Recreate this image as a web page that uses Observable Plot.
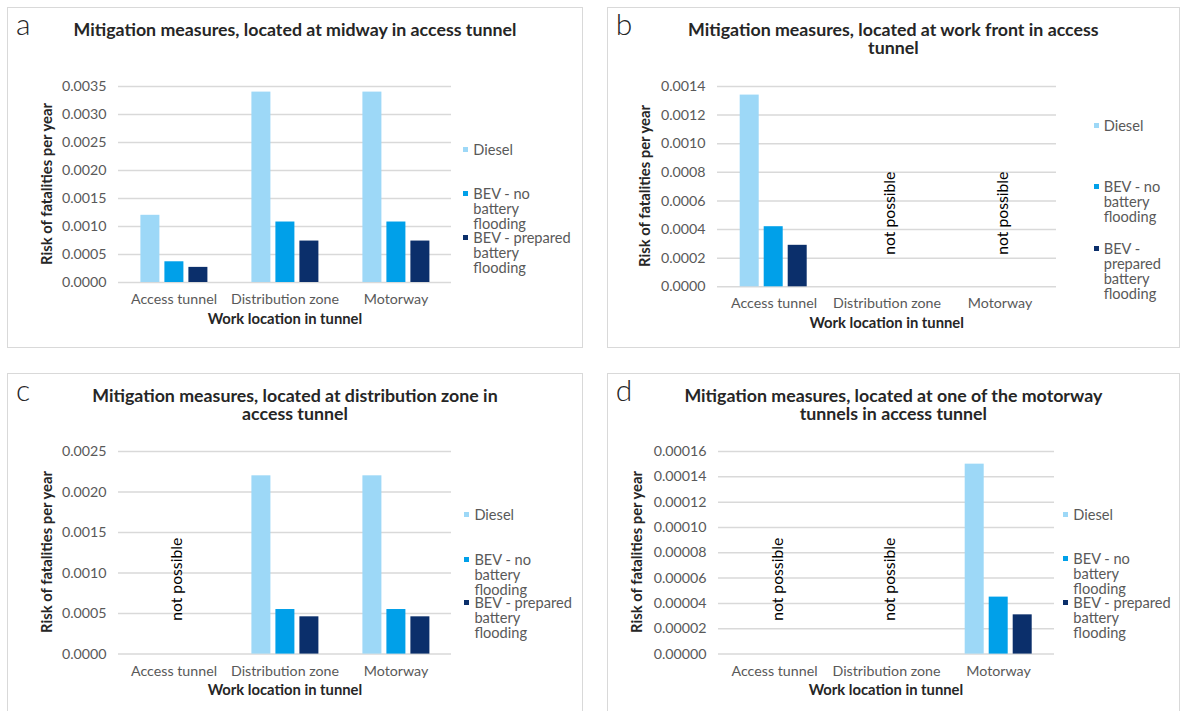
<!DOCTYPE html>
<html><head><meta charset="utf-8">
<script src="https://cdn.jsdelivr.net/npm/d3@7"></script>
<script src="https://cdn.jsdelivr.net/npm/@observablehq/plot@0.6"></script>
<style>
html,body{margin:0;padding:0;background:#fff;}
#fig{position:relative;width:1182px;height:711px;overflow:hidden;font-family:Lato,"Open Sans",sans-serif;}
.panel{position:absolute;border:1px solid #d9d9d9;box-sizing:border-box;}
.abs{position:absolute;white-space:nowrap;}
svg{overflow:visible;}
</style></head><body><div id="fig"></div>
<script>
// ---------- data ----------
const categories = ["Access tunnel", "Distribution zone", "Motorway"];
const series = ["Diesel", "BEV - no battery flooding", "BEV - prepared battery flooding"];
const seriesColors = ["#9dd8f7", "#00a0e9", "#0b2f6b"];
const panelLetters = ["a", "b", "c", "d"];
const panelTitles = [
  "Mitigation measures, located at midway in access tunnel",
  "Mitigation measures, located at work front in access tunnel",
  "Mitigation measures, located at distribution zone in access tunnel",
  "Mitigation measures, located at one of the motorway tunnels in access tunnel"
];
const xAxisTitle = "Work location in tunnel";
const yAxisTitle = "Risk of fatalities per year";
const notPossibleLabel = "not possible";

// panel a: midway
const dieselA  = [0.0012, 0.0034, 0.0034];
const bevNoA   = [0.00037, 0.00108, 0.00108];
const bevPrepA = [0.00027, 0.00074, 0.00074];
const ticksA   = [0, 0.0005, 0.0010, 0.0015, 0.0020, 0.0025, 0.0030, 0.0035];
const notPossibleA = [];
// panel b: work front
const dieselB  = [0.00134, null, null];
const bevNoB   = [0.00042, null, null];
const bevPrepB = [0.00029, null, null];
const ticksB   = [0, 0.0002, 0.0004, 0.0006, 0.0008, 0.0010, 0.0012, 0.0014];
const notPossibleB = ["Distribution zone", "Motorway"];
// panel c: distribution zone
const dieselC  = [null, 0.0022, 0.0022];
const bevNoC   = [null, 0.00055, 0.00055];
const bevPrepC = [null, 0.00046, 0.00046];
const ticksC   = [0, 0.0005, 0.0010, 0.0015, 0.0020, 0.0025];
const notPossibleC = ["Access tunnel"];
// panel d: one of the motorway tunnels
const dieselD  = [null, null, 0.00015];
const bevNoD   = [null, null, 0.000045];
const bevPrepD = [null, null, 0.000031];
const ticksD   = [0, 0.00002, 0.00004, 0.00006, 0.00008, 0.00010, 0.00012, 0.00014, 0.00016];
const notPossibleD = ["Access tunnel", "Distribution zone"];

const panelValues = [[dieselA, bevNoA, bevPrepA], [dieselB, bevNoB, bevPrepB], [dieselC, bevNoC, bevPrepC], [dieselD, bevNoD, bevPrepD]];
const panelTicks = [ticksA, ticksB, ticksC, ticksD];
const panelFormats = [".4f", ".4f", ".4f", ".5f"];
const panelNotPossible = [notPossibleA, notPossibleB, notPossibleC, notPossibleD];

// ---------- layout ----------
const layout = [
  {box: [7, 7, 583, 348],        plot: [117.6, 85.7, 452.3, 281.7],  yTitleX: 46,    legendX: 473.3,  legendRows: [63.3, 107.6, 151.3], legendWidth: 100, titleWidth: 480},
  {box: [606.7, 7, 1180, 348],   plot: [717, 85.7, 1056.3, 286],     yTitleX: 644.4, legendX: 1103.7, legendRows: [39.3, 100.3, 162.3], legendWidth: 72,  titleWidth: 430},
  {box: [7, 373, 583, 712],      plot: [117.6, 450.7, 452.3, 653.3], yTitleX: 45.8,  legendX: 474.4,  legendRows: [63.6, 108.3, 151.6], legendWidth: 100, titleWidth: 420},
  {box: [606.7, 373, 1180, 712], plot: [717, 450.7, 1054.8, 653.3],  yTitleX: 636,   legendX: 1073.3, legendRows: [63.6, 108, 151.3],   legendWidth: 100, titleWidth: 430}
];

const FONT = "Lato";
const ctx = document.createElement("canvas").getContext("2d");
function fit(text, weight, target) {
  ctx.font = `${weight} 100px ${FONT}`;
  return 100 * target / ctx.measureText(text).width;
}
const titleFs  = fit(panelTitles[0], 700, 443.5);
const tickFs   = fit("Access tunnel", 400, 86);
const legendFs = fit("BEV - prepared", 400, 98);
const axisFs   = fit(xAxisTitle, 700, 154.6);
const npFs     = fit(notPossibleLabel, 400, 83);

const fig = document.getElementById("fig");
function addDiv(cls, css, text) {
  const d = document.createElement("div");
  d.className = cls;
  Object.assign(d.style, css);
  if (text != null) d.textContent = text;
  fig.appendChild(d);
  return d;
}

layout.forEach((L, i) => {
  const [bx0, by0, bx1, by1] = L.box;
  const [px0, py0, px1, py1] = L.plot;
  addDiv("panel", {left: bx0 + "px", top: by0 + "px", width: (bx1 - bx0) + "px", height: (by1 - by0) + "px"});

  const rows = [];
  panelValues[i].forEach((vals, s) => vals.forEach((v, c) => {
    if (v != null) rows.push({category: categories[c], series: series[s], value: v});
  }));

  const svgTop = py0 - 20, svgBottom = py1 + 30;
  const chart = Plot.plot({
    width: bx1 - bx0,
    height: svgBottom - svgTop,
    marginLeft: px0 - bx0,
    marginRight: bx1 - px1,
    marginTop: py0 - svgTop,
    marginBottom: svgBottom - py1,
    style: {fontFamily: FONT, fontSize: tickFs + "px", color: "#595959", background: "transparent", overflow: "visible"},
    fx: {domain: categories, padding: 0, label: null},
    x: {domain: series, paddingInner: 0.2, paddingOuter: 0.87, axis: null},
    y: {domain: [0, d3.max(panelTicks[i])], label: null},
    color: {domain: series, range: seriesColors},
    marks: [
      Plot.gridY({ticks: panelTicks[i], stroke: "#d9d9d9", strokeOpacity: 1, strokeWidth: 1.5}),
      Plot.axisY({ticks: panelTicks[i], tickFormat: d3.format(panelFormats[i]), tickSize: 0, tickPadding: 12, label: null, fill: "#595959", fontSize: tickFs}),
      Plot.axisFx({anchor: "bottom", tickSize: 0, tickPadding: 11.5, label: null, fill: "#595959", fontSize: tickFs}),
      Plot.barY(rows, {fx: "category", x: "series", y: "value", fill: "series"}),
      Plot.text(panelNotPossible[i], {fx: d => d, text: () => notPossibleLabel, frameAnchor: "middle", rotate: -90, dx: 3, dy: 26.5, fontSize: npFs, fill: "#000"})
    ]
  });
  chart.style.position = "absolute";
  chart.style.left = bx0 + "px";
  chart.style.top = svgTop + "px";
  fig.appendChild(chart);

  // panel letter
  addDiv("abs", {left: (bx0 + 9) + "px", top: (by0 + 1) + "px", fontSize: "30px", lineHeight: "30px", fontWeight: 300, color: "#262626"}, panelLetters[i]);
  // title
  const cx = (bx0 + bx1) / 2;
  addDiv("abs", {left: (cx - L.titleWidth / 2) + "px", top: (by0 + 13) + "px", width: L.titleWidth + "px", whiteSpace: "normal", textAlign: "center",
    fontSize: titleFs + "px", lineHeight: "18px", fontWeight: 700, color: "#262626"}, panelTitles[i]);
  // x axis title
  addDiv("abs", {left: ((px0 + px1) / 2) + "px", top: (py1 + 36 - 9) + "px", transform: "translateX(-50%)", fontSize: axisFs + "px", lineHeight: "18px", fontWeight: 700, color: "#262626"}, xAxisTitle);
  // y axis title
  addDiv("abs", {left: L.yTitleX + "px", top: ((py0 + py1) / 2) + "px", transform: "translate(-50%,-50%) rotate(-90deg)", fontSize: axisFs + "px", lineHeight: "18px", fontWeight: 700, color: "#262626"}, yAxisTitle);
  // legend
  series.forEach((name, s) => {
    const cy = py0 + L.legendRows[s];
    addDiv("abs", {left: (L.legendX - 10) + "px", top: (cy - 2.5) + "px", width: "5px", height: "5px", background: seriesColors[s]});
    addDiv("abs", {left: L.legendX + "px", top: (cy - 7.5) + "px", width: L.legendWidth + "px", whiteSpace: "normal", fontSize: legendFs + "px", lineHeight: "15px", color: "#595959"}, name);
  });
});
</script>
</body></html>
